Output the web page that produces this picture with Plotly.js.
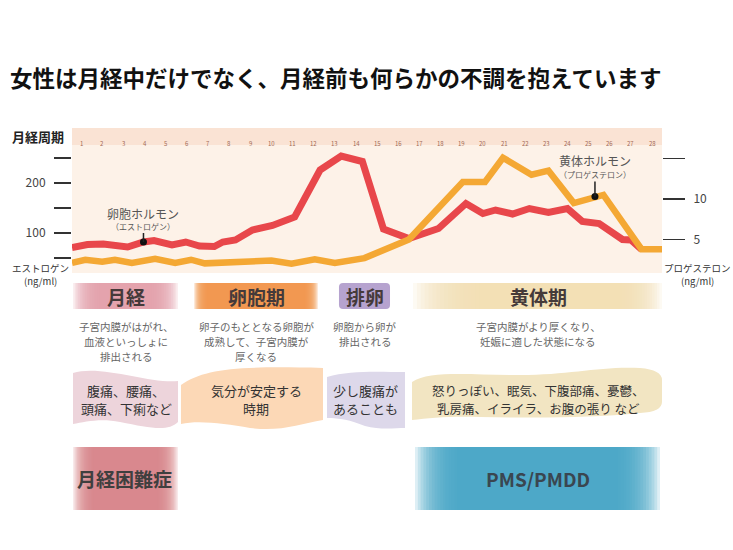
<!DOCTYPE html>
<html><head><meta charset="utf-8">
<script src="https://cdn.plot.ly/plotly-3.0.1.min.js"></script>
<style>html,body{margin:0;padding:0;background:#fff}#chart{width:733px;height:550px}</style>
</head><body><div id="chart"></div>
<script>
// ---- data ----
const dayTicks = [1,2,3,4,5,6,7,8,9,10,11,12,13,14,15,16,17,18,19,20,21,22,23,24,25,26,27,28];
const dayLabels = ['1','2','3','4','5','6','7','8','9','10','11','12','13','14','15','16','17','18','19','20','21','22','23','24','25','26','27','28'];
const estrogenDay = [0.57,1.3,2.05,3.2,3.95,4.45,5.3,5.95,6.6,7.3,7.7,8.3,9.1,10.05,11.1,12.3,13.3,14.3,15.3,16.5,17.9,19.2,20.0,20.6,21.4,22.2,23.1,24.0,24.7,25.5,26.6,27.0,27.5];
const estrogenVal = [71,77,78,72,82,85,76,82,74,73,82,86,106,115,132,226,254,243,108,89,109,159,139,146,138,149,141,149,123,119,87,86,67];
const progDay = [0.57,1.2,2.0,2.6,3.4,4.5,5.45,6.2,6.85,7.8,10.0,10.95,12.05,13.0,14.4,16.5,19.05,20.1,20.95,22.3,23.1,24.3,25.3,25.7,27.5,28.47];
const progVal = [2.1,2.5,2.25,2.5,2.1,2.6,2.1,2.5,2.05,2.1,2.4,2.0,2.55,2.1,2.7,5.0,12.1,12.1,15.1,13.0,13.5,9.5,10.3,10.5,3.8,3.8];
const estrogenMarker = {day:[3.95], val:[82]};
const progMarker = {day:[25.3], val:[10.3]};
const leftTicks = [50,100,150,200,250];
const leftTickText = ['','100','','200',''];
const rightTicks = [5,10,15];
const rightTickText = ['5','10',''];

const titleText = '女性は月経中だけでなく、月経前も何らかの不調を抱えています';
const phaseNames = ['月経','卵胞期','排卵','黄体期'];
const phaseDesc = [['子宮内膜がはがれ、','血液といっしょに','排出される'],['卵子のもととなる卵胞が','成熟して、子宮内膜が','厚くなる'],['卵胞から卵が','排出される'],['子宮内膜がより厚くなり、','妊娠に適した状態になる']];
const phaseSymptoms = [['腹痛、腰痛、','頭痛、下痢など'],['気分が安定する','時期'],['少し腹痛が','あることも'],['怒りっぽい、眠気、下腹部痛、憂鬱、','乳房痛、イライラ、お腹の張り など']];
const disorders = ['月経困難症','PMS/PMDD'];
const hormoneNames = [['卵胞ホルモン','（エストロゲン）'],['黄体ホルモン','（プロゲステロン）']];
const axisTitles = [['エストロゲン','(ng/ml)'],['プロゲステロン','(ng/ml)']];

// ---- layout helpers (pixel -> paper) ----
const L=72, R=662, T=145, B=273;
const X = p => (p-L)/(R-L);
const Y = p => (B-p)/(B-T);
const P = (x,y) => X(x).toFixed(4)+','+Y(y).toFixed(4);
const FONT = '"Noto Sans CJK JP", "Noto Sans", sans-serif';

const shapes = [];
const annotations = [];
function ann(text, px, py, size, color, extra){
  annotations.push(Object.assign({text, x:X(px), y:Y(py), xref:'paper', yref:'paper', showarrow:false,
    xanchor:'center', yanchor:'middle', font:{family:FONT, size, color}}, extra||{}));
}
function annLines(lines, px, py0, step, size, color){
  lines.forEach((t,i)=>ann(t, px, py0+i*step, size, color));
}
function gradRect(x0,x1,y0,y1,color,fl,fr,n,a){
  for(let i=0;i<n;i++){
    shapes.push({type:'rect', xref:'paper', yref:'paper', layer:'below',
      x0:X(x0+fl*i/n), x1:X(x1-fr*i/n), y0:Y(y1), y1:Y(y0),
      fillcolor:color, opacity:a, line:{width:0}});
  }
}
function pathShape(d,color){
  shapes.push({type:'path', xref:'paper', yref:'paper', layer:'below', path:d, fillcolor:color, line:{width:0}});
}

// day band
shapes.push({type:'rect', xref:'paper', yref:'paper', layer:'below', x0:0, x1:1, y0:1, y1:Y(128), fillcolor:'#fae3d4', line:{width:0}});
dayTicks.forEach((d,i)=>{
  annotations.push({text:dayLabels[i], x:d, xref:'x', y:Y(136.5), yref:'paper', showarrow:false,
    font:{family:FONT, size:6, color:'#a36a55'}});
});
ann('<b>月経周期</b>', 38, 136, 13, '#222');
annLines(axisTitles[0], 40, 268, 13, 9.5, '#333');
annLines(axisTitles[1], 697, 268, 13, 9.5, '#333');

// phase label boxes
gradRect(73,178,283,309,'#e2a1aa',28,28,16,0.18);
gradRect(194,318,283,309,'#f3944c',14,14,14,0.22);
shapes.push({type:'path', xref:'paper', yref:'paper', layer:'below', fillcolor:'#b6a3cf', line:{width:0},
  path:'M '+P(343,283)+' L '+P(386,283)+' Q '+P(390,283)+' '+P(390,287)+' L '+P(390,305)+' Q '+P(390,309)+' '+P(386,309)+' L '+P(343,309)+' Q '+P(339,309)+' '+P(339,305)+' L '+P(339,287)+' Q '+P(339,283)+' '+P(343,283)+' Z'});
gradRect(413,662,283,309,'#f1e0b6',70,45,18,0.16);
const phaseX = [126,256,365,538];
phaseNames.forEach((t,i)=>ann('<b>'+t+'</b>', phaseX[i], 296, 19, '#453a3a'));
phaseDesc.forEach((lines,i)=>annLines(lines, phaseX[i], 326.5, 15, 10.5, '#666'));

// wavy symptom boxes
pathShape('M '+P(73,373)+' C '+P(100,364)+' '+P(150,384)+' '+P(178,381)+' L '+P(178,422)+' C '+P(168,432)+' '+P(150,428)+' '+P(120,422)+' C '+P(100,418)+' '+P(85,422)+' '+P(73,424)+' Z','#edd4db');
pathShape('M '+P(181,385)+' C '+P(205,368)+' '+P(240,366)+' '+P(323,368)+' L '+P(323,420)+' C '+P(300,424)+' '+P(280,432)+' '+P(250,428)+' C '+P(225,424)+' '+P(200,420)+' '+P(181,424)+' Z','#fcd8b6');
pathShape('M '+P(327,377)+' C '+P(350,370)+' '+P(380,372)+' '+P(405,372)+' L '+P(405,428)+' C '+P(395,428)+' '+P(380,430)+' '+P(365,426)+' C '+P(350,420)+' '+P(340,418)+' '+P(327,418)+' Z','#ddd8ea');
pathShape('M '+P(412,382)+' C '+P(430,370)+' '+P(470,375)+' '+P(520,375)+' C '+P(570,375)+' '+P(600,366)+' '+P(640,368)+' Q '+P(662,370)+' '+P(662,380)+' L '+P(662,402)+' Q '+P(662,412)+' '+P(640,413)+' C '+P(590,418)+' '+P(540,418)+' '+P(480,417)+' C '+P(450,416)+' '+P(430,418)+' '+P(412,420)+' Z','#f2e5c2');
phaseSymptoms.forEach((lines,i)=>annLines(lines, phaseX[i], 390, 18, i===3?12.5:13, '#333'));

// disorder boxes
gradRect(73,178,447,510,'#d9848d',22,22,16,0.18);
gradRect(415,660,447,510,'#47a7c6',45,45,16,0.18);
ann('<b>'+disorders[0]+'</b>', 124, 478, 19, '#3f3f3f');
ann('<b>'+disorders[1]+'</b>', 538, 478, 19, '#3a4650');

// hormone labels with callouts
const markers = [[estrogenMarker,'y',-16,29],[progMarker,'y2',-22,36]];
markers.forEach(([m,ax,ay,shift],i)=>{
  annotations.push({text:hormoneNames[i][1], x:m.day[0], y:m.val[0], xref:'x', yref:ax,
    showarrow:true, arrowhead:0, arrowwidth:1.5, arrowcolor:'#222', ax:0, ay:ay, font:{family:FONT, size:8, color:'#555'}});
  annotations.push({text:hormoneNames[i][0], x:m.day[0], y:m.val[0], xref:'x', yref:ax, yshift:shift,
    showarrow:false, font:{family:FONT, size:12, color:'#555'}});
});

const traces = [
  {x:estrogenDay, y:estrogenVal, type:'scatter', mode:'lines', line:{color:'#e8474b', width:7}, yaxis:'y', hoverinfo:'skip'},
  {x:progDay, y:progVal, type:'scatter', mode:'lines', line:{color:'#f4a834', width:6.5}, yaxis:'y2', hoverinfo:'skip'},
  {x:estrogenMarker.day, y:estrogenMarker.val, type:'scatter', mode:'markers', marker:{color:'#111', size:7}, yaxis:'y', hoverinfo:'skip'},
  {x:progMarker.day, y:progMarker.val, type:'scatter', mode:'markers', marker:{color:'#111', size:7}, yaxis:'y2', hoverinfo:'skip'}
];

const layout = {
  width:733, height:550, showlegend:false, hovermode:false,
  paper_bgcolor:'#ffffff', plot_bgcolor:'#fdf2e8',
  margin:{l:L, r:733-R, t:T, b:550-B, pad:0},
  title:{text:'<b>'+titleText+'</b>', x:10/733, xanchor:'left', xref:'container', y:1-79/550, yanchor:'middle', yref:'container',
    font:{family:FONT, size:22.5, color:'#111'}},
  xaxis:{range:[0.57,28.47], showgrid:false, zeroline:false, showticklabels:false, ticks:'', showline:false, fixedrange:true},
  yaxis:{range:[20,276], showgrid:false, zeroline:false, showline:false, tickvals:leftTicks, ticktext:leftTickText,
    ticks:'outside', ticklen:17, tickwidth:1.3, tickcolor:'#333', ticklabelstandoff:6,
    tickfont:{family:FONT, size:12, color:'#444'}},
  yaxis2:{range:[0.86,16.67], overlaying:'y', side:'right', showgrid:false, zeroline:false, showline:false,
    tickvals:rightTicks, ticktext:rightTickText, ticks:'outside', ticklen:22, tickwidth:1.3, tickcolor:'#333', ticklabelstandoff:6,
    tickfont:{family:FONT, size:12, color:'#444'}},
  shapes, annotations
};
Plotly.newPlot('chart', traces, layout, {displayModeBar:false, staticPlot:true});
</script></body></html>
